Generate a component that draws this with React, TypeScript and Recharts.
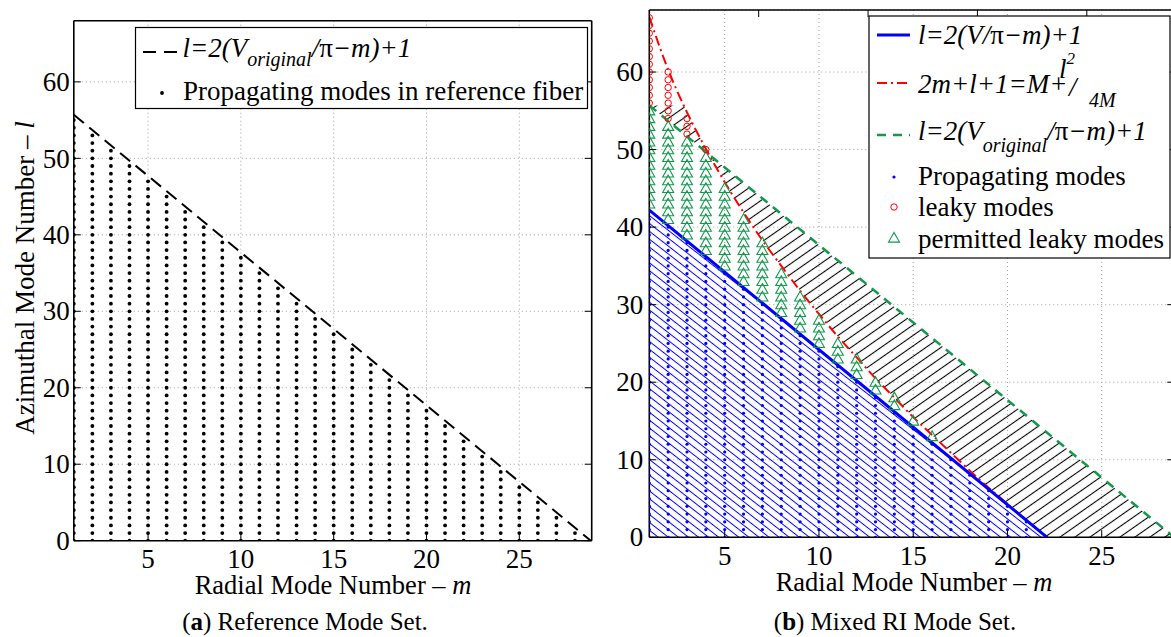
import React from "react";
import { ComposedChart, XAxis, YAxis, CartesianGrid, Area, Line, Scatter } from "recharts";

const FONT = '"Liberation Serif", "Times New Roman", serif';
const BLUE = "#0000ff";
const RED = "#ff0000";
const GREEN = "#119a4c";

const M_TICKS = [5, 10, 15, 20, 25];
const L_TICKS = [0, 10, 20, 30, 40, 50, 60];

// (a) highest azimuthal number l that still propagates, for m = 1..28
const refTopL = [55, 53, 51, 49, 47, 45, 43, 41, 39, 37, 35, 33, 31, 29, 27, 25, 23, 21, 19, 17, 15, 13, 11, 9, 7, 5, 3, 1];
// cut-off line of the reference fibre
const cutVorig = [
  { m: 1, l: 55.7 },
  { m: 28.85, l: 0 },
];

// (b) propagating modes, l = 0..top for m = 1..22
const propTopL = [42, 40, 38, 36, 34, 32, 30, 28, 26, 24, 22, 20, 18, 16, 14, 12, 10, 8, 6, 4, 2, 0];
// permitted leaky modes (triangles), m = 1..16
const permLowL = [43, 41, 39, 37, 35, 33, 31, 29, 27, 25, 23, 21, 19, 17, 15, 13];
const permHighL = [55, 53, 51, 49, 45, 41, 38, 34, 31, 28, 25, 23, 20, 18, 15, 13];
// leaky modes (circles), m = 1..4
const leakyLowL = [56, 54, 52, 50];
const leakyHighL = [67, 60, 54, 50];
// l=2(V/pi-m)+1
const cutV = [
  { m: 1, l: 42.2 },
  { m: 22.1, l: 0 },
];
// 2m+l+1 = M + l^2/4M, value of l at m = 1..22 (hits 0 at m = 22.1)
const cutLeaky = [67.1, 60.3, 54.8, 50.1, 45.8, 41.9, 38.3, 35.0, 31.8, 28.8, 25.9, 23.2, 20.5, 18.0, 15.5, 13.2, 10.9, 8.6, 6.4, 4.3, 2.2, 0.2];
// m where the leaky curve passes the top of the V_original line
const hatchTopM = 2.84;

const columns = (low: number[], high: number[]) =>
  low.flatMap((lo, i) => {
    const pts: { m: number; l: number }[] = [];
    for (let l = lo; l <= high[i]; l++) pts.push({ m: i + 1, l });
    return pts;
  });

const refModes = columns(refTopL.map(() => 0), refTopL);
const propModes = columns(propTopL.map(() => 0), propTopL);
const permModes = columns(permLowL, permHighL);
const leakyModes = columns(leakyLowL, leakyHighL);
const leakyCurve = [...cutLeaky.map((l, i) => ({ m: i + 1, l })), { m: 22.1, l: 0 }];

// value of a polyline at m
const along = (seg: { m: number; l: number }[], m: number) => {
  for (let i = 1; i < seg.length; i++) {
    const a = seg[i - 1];
    const b = seg[i];
    if (m <= b.m) return Math.max(0, a.l + ((b.l - a.l) * (m - a.m)) / (b.m - a.m));
  }
  return 0;
};

// rows for the two hatched bands
const bandRows = [1, 2, hatchTopM, ...cutLeaky.map((_, i) => i + 1).slice(2), 22.1, 28.85].map((m) => ({
  m,
  blue: m <= 22.1 ? [0, along(cutV, m)] : null,
  black: [along(cutVorig, m), Math.min(cutVorig[0].l, along(leakyCurve, m))],
}));

const BottomTick = ({ x, y, payload }: any) => (
  <g>
    <line x1={x} y1={y} x2={x} y2={y - 7} stroke="#000" strokeWidth={1} />
    <text x={x} y={y + 27.5} textAnchor="middle" fontSize={27} fontFamily={FONT} fill="#000">
      {payload.value}
    </text>
  </g>
);
const TopTick = ({ x, y }: any) => <line x1={x} y1={y} x2={x} y2={y + 7} stroke="#000" strokeWidth={1} />;
const LeftTick = ({ x, y, payload, gap }: any) => (
  <g>
    <line x1={x} y1={y} x2={x + 7} y2={y} stroke="#000" strokeWidth={1} />
    <text x={x - gap} y={y} dy="0.34em" textAnchor="end" fontSize={27} fontFamily={FONT} fill="#000">
      {payload.value}
    </text>
  </g>
);
const RightTick = ({ x, y }: any) => <line x1={x} y1={y} x2={x - 7} y2={y} stroke="#000" strokeWidth={1} />;

const blackDot = (p: any) => <circle cx={p.cx} cy={p.cy} r={1.9} fill="#000" />;
const blueDot = (p: any) => <circle cx={p.cx} cy={p.cy} r={1.6} fill={BLUE} />;
const ring = (p: any) => <circle cx={p.cx} cy={p.cy} r={3.2} fill="none" stroke={RED} strokeWidth={1} />;
const tri = (p: any) => (
  <polygon
    points={`${p.cx},${p.cy - 5.6} ${p.cx - 5.5},${p.cy + 4.1} ${p.cx + 5.5},${p.cy + 4.1}`}
    fill="none"
    stroke={GREEN}
    strokeWidth={1.1}
  />
);

const axisLine = { stroke: "#000", strokeWidth: 1.6 };

const axes = (xMax: number, leftWidth: number, gap: number) => [
  <CartesianGrid key="g" stroke="#a0a0a0" strokeDasharray="1 3" />,
  <XAxis key="xb" type="number" dataKey="m" domain={[1, xMax]} ticks={M_TICKS} interval={0} allowDataOverflow
    axisLine={axisLine} tickLine={false} tickSize={0} tickMargin={0} height={30} tick={<BottomTick />} />,
  <XAxis key="xt" xAxisId="top" orientation="top" type="number" domain={[1, xMax]} ticks={M_TICKS} interval={0}
    allowDataOverflow axisLine={axisLine} tickLine={false} tickSize={0} tickMargin={0} height={1} tick={<TopTick />} />,
  <YAxis key="yl" type="number" dataKey="l" domain={[0, 68]} ticks={L_TICKS} interval={0} allowDataOverflow
    axisLine={axisLine} tickLine={false} tickSize={0} tickMargin={0} width={leftWidth} tick={<LeftTick gap={gap} />} />,
  <YAxis key="yr" yAxisId="right" orientation="right" type="number" domain={[0, 68]} ticks={L_TICKS} interval={0}
    allowDataOverflow axisLine={axisLine} tickLine={false} tickSize={0} tickMargin={0} width={1} tick={<RightTick />} />,
];

export default function App() {
  return (
    <div style={{ position: "absolute", left: 0, top: 0, width: 1171, height: 637, overflow: "hidden", background: "#fff" }}>
      <svg width={0} height={0} style={{ position: "absolute" }}>
        <defs>
          <pattern id="hatchBlue" patternUnits="userSpaceOnUse" width={6.2} height={6.2} patternTransform="rotate(38)">
            <line x1={0} y1={3.1} x2={6.2} y2={3.1} stroke={BLUE} strokeWidth={1} />
          </pattern>
          <pattern id="hatchBlack" patternUnits="userSpaceOnUse" width={8.6} height={8.6} patternTransform="rotate(-35)">
            <line x1={0} y1={4.3} x2={8.6} y2={4.3} stroke="#000" strokeWidth={1.1} />
          </pattern>
        </defs>
      </svg>

      {/* (a) reference mode set */}
      <div style={{ position: "absolute", left: 0, top: 0 }}>
        <ComposedChart width={600} height={637} margin={{ top: 19.7, right: 7.3, bottom: 66.3, left: 13.8 }}>
          {axes(28.9, 60, 4)}
          <Scatter data={refModes} shape={blackDot} isAnimationActive={false} />
          <Line data={cutVorig} dataKey="l" type="linear" stroke="#000" strokeWidth={2} strokeDasharray="13 7"
            dot={false} activeDot={false} isAnimationActive={false} />
        </ComposedChart>
      </div>

      {/* (b) mixed RI mode set */}
      <div style={{ position: "absolute", left: 590, top: 0 }}>
        <ComposedChart width={590} height={637} data={bandRows} margin={{ top: 9, right: 4.7, bottom: 69.7, left: 9.3 }}>
          {axes(28.85, 50, 6)}
          <Area dataKey="black" type="linear" stroke="none" fill="url(#hatchBlack)" fillOpacity={1}
            dot={false} activeDot={false} isAnimationActive={false} />
          <Area dataKey="blue" type="linear" stroke="none" fill="url(#hatchBlue)" fillOpacity={1}
            dot={false} activeDot={false} isAnimationActive={false} />
          <Scatter data={propModes} shape={blueDot} isAnimationActive={false} />
          <Scatter data={permModes} shape={tri} isAnimationActive={false} />
          <Scatter data={leakyModes} shape={ring} isAnimationActive={false} />
          <Line data={cutVorig} dataKey="l" type="linear" stroke={GREEN} strokeWidth={2.5} strokeDasharray="9 7"
            dot={false} activeDot={false} isAnimationActive={false} />
          <Line data={leakyCurve} dataKey="l" type="monotone" stroke={RED} strokeWidth={2} strokeDasharray="10 4 2 4"
            dot={false} activeDot={false} isAnimationActive={false} />
          <Line data={cutV} dataKey="l" type="linear" stroke={BLUE} strokeWidth={3}
            dot={false} activeDot={false} isAnimationActive={false} />
        </ComposedChart>
      </div>

      {/* labels, legends and captions */}
      <svg width={1171} height={637} style={{ position: "absolute", left: 0, top: 0, pointerEvents: "none" }}
        fontFamily={FONT} fill="#000">
        <text x={333} y={594} textAnchor="middle" fontSize={26.5}>
          Radial Mode Number – <tspan fontStyle="italic">m</tspan>
        </text>
        <text x={914} y={591} textAnchor="middle" fontSize={26.5}>
          Radial Mode Number – <tspan fontStyle="italic">m</tspan>
        </text>
        <text transform="translate(34 278) rotate(-90)" textAnchor="middle" fontSize={27}>
          Azimuthal Mode Number – <tspan fontStyle="italic">l</tspan>
        </text>
        <text x={305} y={630} textAnchor="middle" fontSize={25}>
          (<tspan fontWeight="bold">a</tspan>) Reference Mode Set.
        </text>
        <text x={895} y={630} textAnchor="middle" fontSize={25}>
          (<tspan fontWeight="bold">b</tspan>) Mixed RI Mode Set.
        </text>

        {/* legend (a) */}
        <rect x={135.5} y={27.5} width={452} height={81} fill="#fff" stroke="#000" strokeWidth={1.2} />
        <line x1={143} y1={52} x2={178} y2={52} stroke="#000" strokeWidth={2} strokeDasharray="13 8" />
        <text x={182.5} y={57} fontSize={27} fontStyle="italic">
          l=2(V<tspan fontSize={20} dy={9}>original</tspan>
          <tspan dy={-9}>/</tspan>
          <tspan fontStyle="normal">π</tspan>−m)+1
        </text>
        <circle cx={162} cy={93} r={1.9} fill="#000" />
        <text x={183} y={100} fontSize={27}>Propagating modes in reference fiber</text>

        {/* legend (b) */}
        <rect x={869} y={16} width={301} height={242} fill="#fff" stroke="#000" strokeWidth={1.2} />
        <line x1={877} y1={35} x2={910} y2={35} stroke={BLUE} strokeWidth={3} />
        <text x={918} y={44} fontSize={27} fontStyle="italic">
          l=2(V/<tspan fontStyle="normal">π</tspan>−m)+1
        </text>
        <line x1={877} y1={83} x2={910} y2={83} stroke={RED} strokeWidth={2} strokeDasharray="10 4 2 4" />
        <text x={918} y={93} fontSize={27} fontStyle="italic">
          2m+l+1=M+
          <tspan x={1059} y={78}>l</tspan>
          <tspan fontSize={17} y={64}>2</tspan>
          <tspan x={1069} y={96}>/</tspan>
          <tspan x={1089} y={107} fontSize={20}>4M</tspan>
        </text>
        <line x1={877} y1={135} x2={910} y2={135} stroke={GREEN} strokeWidth={2.5} strokeDasharray="9 7" />
        <text x={918} y={140} fontSize={27} fontStyle="italic">
          l=2(V<tspan fontSize={20} dy={12}>original</tspan>
          <tspan dy={-12}>/</tspan>
          <tspan fontStyle="normal">π</tspan>−m)+1
        </text>
        <circle cx={894} cy={177} r={1.6} fill={BLUE} />
        <text x={918} y={185} fontSize={27}>Propagating modes</text>
        <circle cx={894} cy={207} r={3.2} fill="none" stroke={RED} strokeWidth={1} />
        <text x={918} y={216} fontSize={27}>leaky modes</text>
        <polygon points="894,232.4 888.5,242.1 899.5,242.1" fill="none" stroke={GREEN} strokeWidth={1.1} />
        <text x={918} y={248} fontSize={27}>permitted leaky modes</text>
      </svg>
    </div>
  );
}
